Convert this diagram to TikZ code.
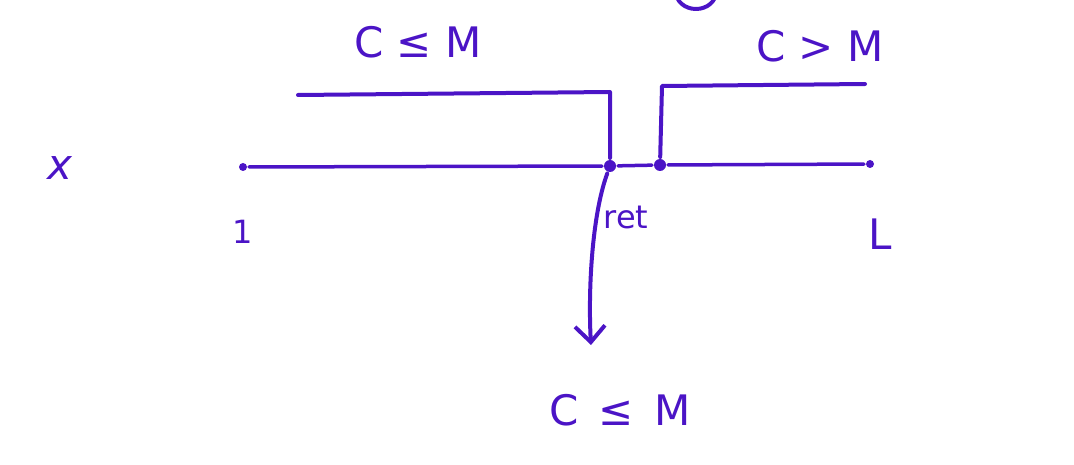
\documentclass[tikz,border=0pt]{standalone}
\usepackage{fontspec}
\setmainfont{DejaVu Sans}
\usepackage{tikz}
\usetikzlibrary{arrows.meta,positioning,calc}
\definecolor{ink}{HTML}{4B14C6}

\begin{document}
\begin{tikzpicture}[
        x=1pt, y=-1pt,
        ink, line width=4pt, line cap=round, line join=round,
        every node/.style={text=ink},
        lbl/.style={font=\fontsize{42}{46}\selectfont},
        small/.style={font=\fontsize{32}{36}\selectfont},
        dot/.style={circle, fill=ink, inner sep=0pt, minimum size=12pt},
        tick/.style={circle, fill=ink, inner sep=0pt, minimum size=8pt},
        axis/.style={line width=3.5pt},
        arr/.style={-{Straight Barb[length=16pt,width=30pt]}}
    ]
    \useasboundingbox (0,0) rectangle (1074,465);

    % Variable and the range 1..L
    \node[lbl] (var) at (60,168) {\itshape x};
    \node[tick] (first) at (243,167) {};
    \node[dot]  (ret)   at (610,166) {};
    \node[dot]  (nxt)   at (660,165) {};
    \node[tick] (last)  at (870,164) {};
    \draw[axis] (first) -- (ret) -- (nxt) -- (last);

    \node[small] (one) at (243,232) {1};
    \node[lbl]   (ell) at (880,234) {L};

    % Left bracket: C <= M
    \coordinate (lo) at (298,95);
    \coordinate (lc) at (610,92);
    \draw (lo) -- (lc) -- (ret);
    \node[lbl] (left) at (418,42) {C ≤ M};

    % Right bracket: C > M
    \coordinate (rc) at (662,86);
    \coordinate (ro) at (865,84);
    \draw (nxt) -- (rc) -- (ro);
    \node[lbl] (right) at (820,46) {C > M};

    % Returned value
    \coordinate (down) at (591,345);
    \draw[arr] (ret) .. controls (592,215) and (588,290) .. (down);
    \node[small] (rlbl) at (626,217) {ret};
    \node[lbl] (bottom) at (620,410) {C \,≤\, M};

    % Circle cut off at the top
    \draw (676,-8) arc[start angle=180, end angle=0, x radius=20, y radius=17];

\end{tikzpicture}
\end{document}
